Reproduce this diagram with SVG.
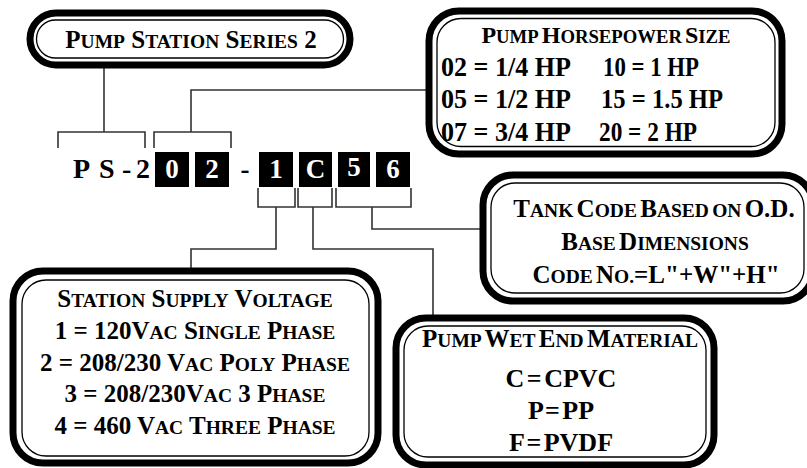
<svg xmlns="http://www.w3.org/2000/svg" width="807" height="468" viewBox="0 0 807 468">
<style>
text{font-family:'Liberation Serif','Times New Roman',serif;font-weight:bold;fill:#000}
.c{text-anchor:middle}
.s{font-size:0.78em}
.ob{fill:#fff;stroke:#000;stroke-width:7}
.ib{fill:none;stroke:#000;stroke-width:1.3}
.ln{fill:none;stroke:#333;stroke-width:1.6}
.bx{fill:#000}
.w{fill:#fff;text-anchor:middle}
.hp{font-size:28px}
</style>
<rect width="807" height="468" fill="#fff"/>
<g id="connectors" class="ln">
<path d="M104,68V132"/>
<path d="M58,148V132H145V148"/>
<path d="M154,148V132H231V148"/>
<path d="M191,132V90H426"/>
<path d="M258,188V207H295V188"/>
<path d="M298,188V207H332V188"/>
<path d="M336,188V207H411V188"/>
<path d="M276,207V249H191V268"/>
<path d="M313,207V249H433V315"/>
<path d="M372,207V229H480"/>
</g>
<g id="series">
<rect class="ob" x="30" y="13" width="320" height="52" rx="26" stroke-width="6"/>
<rect class="ib" x="36.5" y="20" width="307" height="38" rx="19"/>
<text class="c" x="191" y="48" font-size="25">P<tspan class="s">UMP</tspan> S<tspan class="s">TATION</tspan> S<tspan class="s">ERIES</tspan> 2</text>
</g>
<g id="horsepower">
<rect class="ob" x="429" y="11" width="353" height="143" rx="30"/>
<rect class="ib" x="437" y="18.5" width="338" height="128" rx="24"/>
<text class="c" x="606" y="43" font-size="24" word-spacing="-3">P<tspan class="s">UMP</tspan> H<tspan class="s">ORSEPOWER</tspan> S<tspan class="s">IZE</tspan></text>
<text class="hp" x="441" y="76" textLength="130" lengthAdjust="spacingAndGlyphs">02 = 1/4 HP</text>
<text class="hp" x="603" y="76" textLength="96" lengthAdjust="spacingAndGlyphs">10 = 1 HP</text>
<text class="hp" x="441" y="108" textLength="130" lengthAdjust="spacingAndGlyphs">05 = 1/2 HP</text>
<text class="hp" x="601" y="108" textLength="122" lengthAdjust="spacingAndGlyphs">15 = 1.5 HP</text>
<text class="hp" x="441" y="141" textLength="130" lengthAdjust="spacingAndGlyphs">07 = 3/4 HP</text>
<text class="hp" x="599" y="141" textLength="98" lengthAdjust="spacingAndGlyphs">20 = 2 HP</text>
</g>
<g id="code">
<text y="178" font-size="28"><tspan x="73">P</tspan><tspan x="99">S</tspan><tspan x="122">-</tspan><tspan x="136">2</tspan></text>
<rect class="bx" x="155" y="152" width="34" height="35"/>
<rect class="bx" x="195" y="152" width="34" height="35"/>
<rect class="bx" x="259" y="152" width="34" height="35"/>
<rect class="bx" x="299" y="152" width="33" height="35"/>
<rect class="bx" x="338" y="152" width="32" height="35"/>
<rect class="bx" x="376" y="152" width="34" height="35"/>
<text class="w" x="172" y="178" font-size="27">0</text>
<text class="w" x="212" y="178" font-size="27">2</text>
<text class="c" x="245" y="178" font-size="27">-</text>
<text class="w" x="276" y="178" font-size="27">1</text>
<text class="w" x="315.5" y="178" font-size="27">C</text>
<text class="w" x="354" y="176" font-size="27">5</text>
<text class="w" x="393" y="178" font-size="27">6</text>
</g>
<g id="tank">
<rect class="ob" x="483" y="175" width="330" height="126" rx="30"/>
<rect class="ib" x="491" y="183" width="313" height="110" rx="24"/>
<text class="c" x="654" y="217" font-size="25" word-spacing="-3">T<tspan class="s">ANK</tspan> C<tspan class="s">ODE</tspan> B<tspan class="s">ASED</tspan> <tspan class="s">ON</tspan> O.D.</text>
<text class="c" x="655" y="250" font-size="25" word-spacing="-3">B<tspan class="s">ASE</tspan> D<tspan class="s">IMENSIONS</tspan></text>
<text class="c" x="656" y="283" font-size="25" word-spacing="-3">C<tspan class="s">ODE</tspan> N<tspan class="s">O.</tspan>=L"+W"+H"</text>
</g>
<g id="voltage">
<rect class="ob" x="13" y="271" width="365" height="192" rx="30"/>
<rect class="ib" x="22" y="280" width="347" height="176" rx="24"/>
<text class="c" x="195" y="307" font-size="25">S<tspan class="s">TATION</tspan> S<tspan class="s">UPPLY</tspan> V<tspan class="s">OLTAGE</tspan></text>
<text class="c" x="195" y="339" font-size="25">1 = 120V<tspan class="s">AC</tspan> S<tspan class="s">INGLE</tspan> P<tspan class="s">HASE</tspan></text>
<text class="c" x="195" y="371" font-size="25">2 = 208/230 V<tspan class="s">AC</tspan> P<tspan class="s">OLY</tspan> P<tspan class="s">HASE</tspan></text>
<text class="c" x="195" y="402" font-size="25">3 = 208/230V<tspan class="s">AC</tspan> 3 P<tspan class="s">HASE</tspan></text>
<text class="c" x="195" y="434" font-size="25">4 = 460 V<tspan class="s">AC</tspan> T<tspan class="s">HREE</tspan> P<tspan class="s">HASE</tspan></text>
</g>
<g id="material">
<rect class="ob" x="396" y="318" width="318" height="147" rx="30"/>
<rect class="ib" x="404" y="326" width="302" height="131" rx="24"/>
<text class="c" x="560" y="347" font-size="25" word-spacing="-3">P<tspan class="s">UMP</tspan> W<tspan class="s">ET</tspan> E<tspan class="s">ND</tspan> M<tspan class="s">ATERIAL</tspan></text>
<text class="c" x="561" y="387" font-size="26" word-spacing="-4">C = CPVC</text>
<text class="c" x="561" y="419" font-size="26" word-spacing="-4">P = PP</text>
<text class="c" x="561" y="451" font-size="26" word-spacing="-4">F = PVDF</text>
</g>
</svg>
